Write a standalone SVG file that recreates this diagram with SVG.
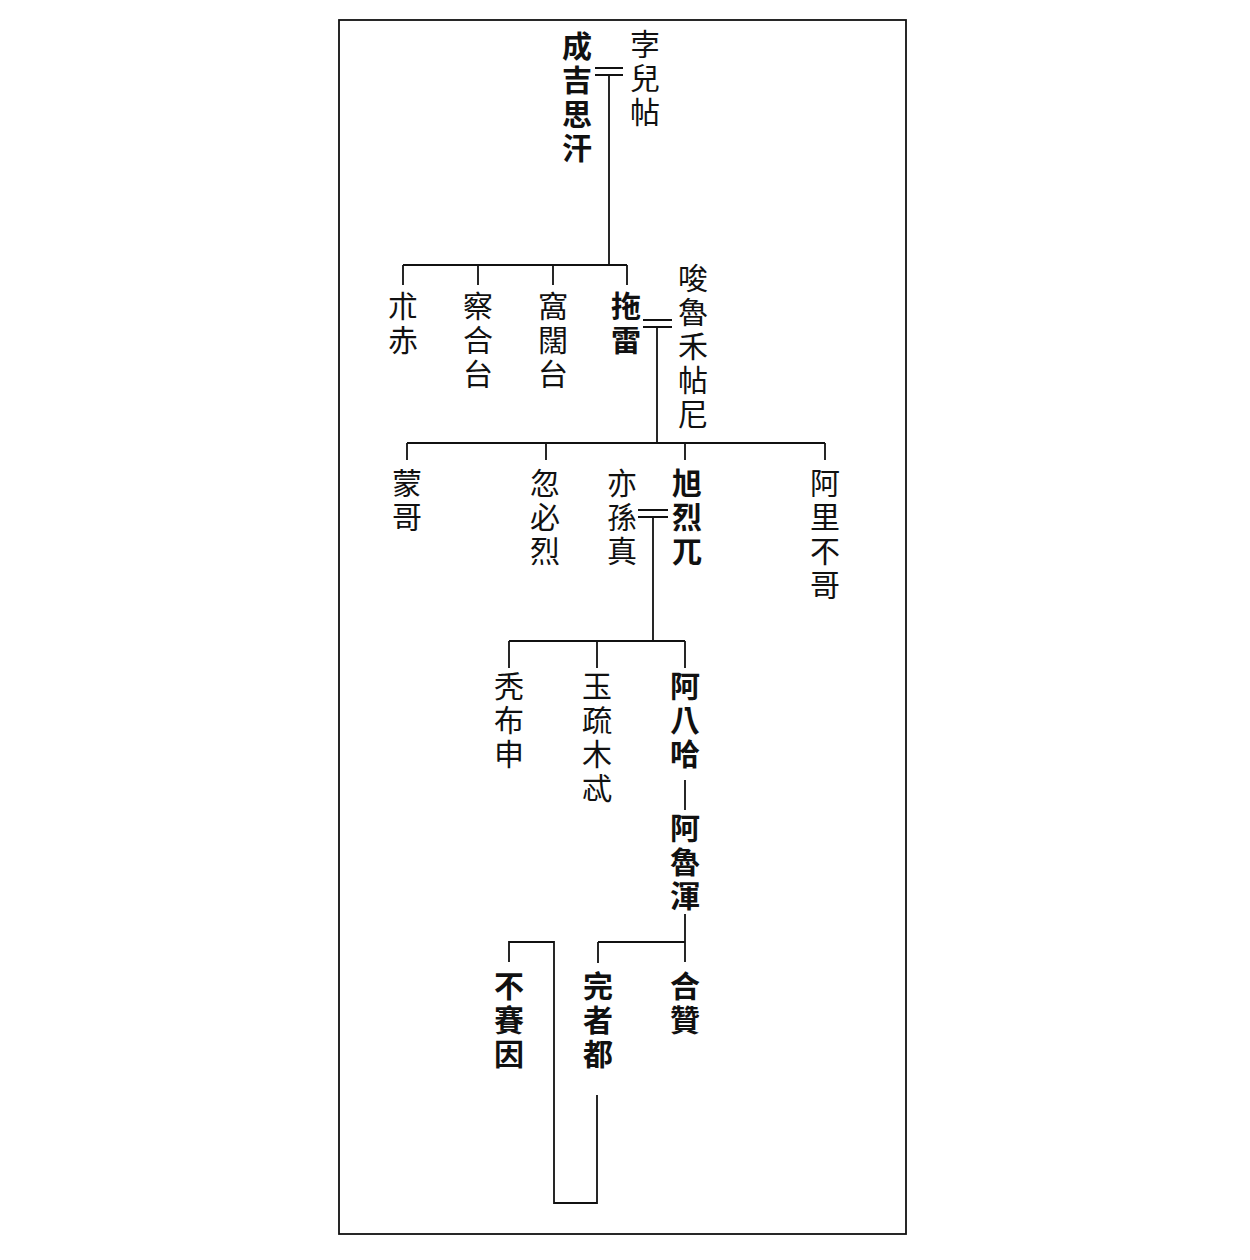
<svg xmlns="http://www.w3.org/2000/svg" width="1250" height="1260" viewBox="0 0 1250 1260">
<style>
text{font-family:"Noto Sans CJK TC","Noto Sans CJK SC",serif;font-size:30px;fill:#111;writing-mode:vertical-rl;text-anchor:start;letter-spacing:4px}
.b{font-weight:bold}
.ln{stroke:#111;stroke-width:1.8;fill:none}
</style>
<rect x="0" y="0" width="1250" height="1260" fill="#fff"/>
<rect x="339" y="20" width="567" height="1214" fill="none" stroke="#111" stroke-width="1.8"/>
<g id="connectors" class="ln">
<path d="M595 68H623M595 75H623M609 75V265"/>
<path d="M403 265H627M403 265V285M478 265V285M553 265V285M627 265V285"/>
<path d="M643 320H672M643 327H672M657 327V443"/>
<path d="M407 443H825M407 443V460M546 443V460M685 443V460M825 443V460"/>
<path d="M638 510H668M638 517H668M653 517V641"/>
<path d="M509 641H685M509 641V668M597 641V668M685 641V668"/>
<path d="M685 780V810"/>
<path d="M685 914V962M598 942H685M598 942V963"/>
<path d="M509 962V942H554V1203H597V1095"/>
</g>
<g id="n-chinggis"><text class="b" x="577" y="31">成吉思汗</text></g>
<g id="n-borte"><text x="645" y="29">孛兒帖</text></g>
<g id="n-jochi"><text x="403" y="291">朮赤</text></g>
<g id="n-chagatai"><text x="478" y="291">察合台</text></g>
<g id="n-ogedei"><text x="553" y="291">窩闊台</text></g>
<g id="n-tolui"><text class="b" x="626" y="291">拖雷</text></g>
<g id="n-sorghaghtani"><text x="693" y="263">唆魯禾帖尼</text></g>
<g id="n-mongke"><text x="407" y="468">蒙哥</text></g>
<g id="n-kublai"><text x="545" y="468">忽必烈</text></g>
<g id="n-yesunjin"><text x="622" y="468">亦孫真</text></g>
<g id="n-hulagu"><text class="b" x="687" y="468">旭烈兀</text></g>
<g id="n-ariqboke"><text x="825" y="468">阿里不哥</text></g>
<g id="n-tubshin"><text x="509" y="671">秃布申</text></g>
<g id="n-yoshmut"><text x="597" y="671">玉疏木忒</text></g>
<g id="n-abaqa"><text class="b" x="685" y="671">阿八哈</text></g>
<g id="n-arghun"><text class="b" x="685" y="813">阿魯渾</text></g>
<g id="n-abusaid"><text class="b" x="509" y="971">不賽因</text></g>
<g id="n-oljeitu"><text class="b" x="598" y="971">完者都</text></g>
<g id="n-ghazan"><text class="b" x="685" y="971">合贊</text></g>
</svg>
